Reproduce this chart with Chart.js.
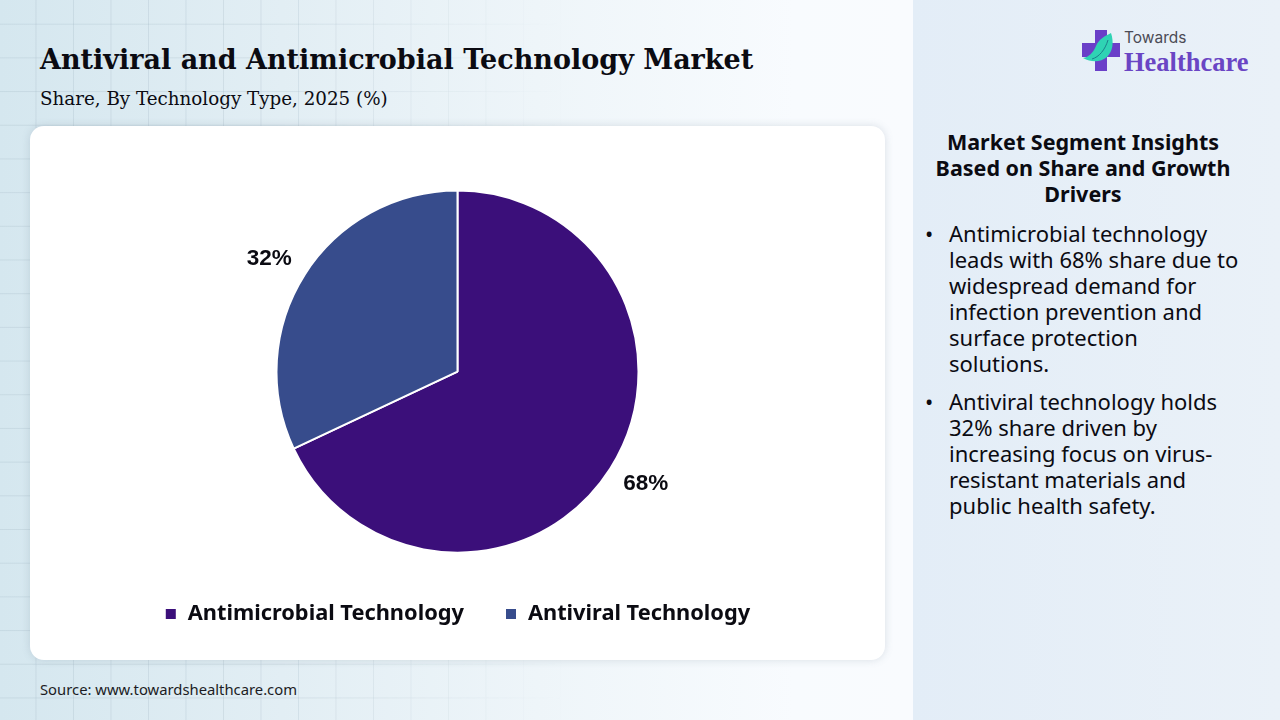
<!DOCTYPE html>
<html>
<head>
<meta charset="utf-8">
<script src="https://cdn.jsdelivr.net/npm/chart.js@4"></script>
<style>
html, body { margin: 0; padding: 0; }
body { width: 1280px; height: 720px; overflow: hidden; position: relative; background: linear-gradient(90deg, #d5e7ef 0%, #e2eef4 22%, #eef5f9 42%, #f8fbfe 62%, #f9fbfe 71%); font-family: "Noto Sans", sans-serif; color: #0b0b12; }
.grid { position: absolute; left: 0; top: 0; width: 913px; height: 720px;
  background-image: linear-gradient(rgba(150,170,185,.22) 1px, transparent 1px), linear-gradient(90deg, rgba(150,170,185,.22) 1px, transparent 1px);
  background-size: 37.5px 33.7px; background-position: -2px -10px;
  -webkit-mask-image: linear-gradient(90deg, #000 0%, #000 30%, transparent 62%); }
.side { position: absolute; left: 913px; top: 0; width: 367px; height: 720px; background: linear-gradient(90deg, #e3edf7, #eaf1f8); }
h1 { position: absolute; left: 40px; top: 44px; margin: 0; font: bold 27px "DejaVu Serif", serif; white-space: nowrap; }
.sub { position: absolute; left: 40px; top: 88px; font: 18.3px "DejaVu Serif", serif; white-space: nowrap; }
.card { position: absolute; left: 30px; top: 126px; width: 855px; height: 534px; background: #fff; border-radius: 14px; box-shadow: 0 0 8px rgba(90,110,130,.2); }
canvas { position: absolute; left: 0; top: 0; }
.source { position: absolute; left: 40px; top: 679px; font: 14.8px "Noto Sans", sans-serif; color: #1c1c24; }
.head { position: absolute; left: 925px; top: 129px; width: 316px; text-align: center; font: bold 21.5px/26px "Noto Sans", sans-serif; }
ul { position: absolute; left: 925px; top: 220px; width: 315px; margin: 0; padding: 0; list-style: none; font: 22px/26px "Noto Sans", sans-serif; }
li { position: relative; padding-left: 24px; margin-bottom: 12px; }
li:before { content: "\2022"; position: absolute; left: 0; }
.logo { position: absolute; left: 1080px; top: 28px; }
.t1 { position: absolute; left: 1124px; top: 28px; font: 15.5px Inter, sans-serif; color: #4b4b55; }
.t2 { position: absolute; left: 1124px; top: 47px; font: bold 26.5px "Liberation Serif", serif; color: #6a45c4; }
</style>
</head>
<body>
<div class="grid"></div>
<div class="side"></div>
<h1>Antiviral and Antimicrobial Technology Market</h1>
<div class="sub">Share, By Technology Type, 2025 (%)</div>
<div class="card"><canvas id="pieChart" width="855" height="534"></canvas></div>
<div class="source">Source: www.towardshealthcare.com</div>
<svg class="logo" width="42" height="46" viewBox="0 0 42 46">
  <path d="M15 2h12v13h13v14H27v14H15V29H2V15h13z" fill="#6a3fc8"/>
  <path d="M3 30C9 29 13 25 16 18 19 11 25 8 31 5c3 9 2 18-4 24-6 5-15 6-24 1z" fill="#2fd3b4"/>
  <path d="M12 31C19 29 25 22 28 12" fill="none" stroke="#1c7f8c" stroke-width="1"/>
</svg>
<div class="t1">Towards</div>
<div class="t2">Healthcare</div>
<div class="head">Market Segment Insights Based on Share and Growth Drivers</div>
<ul>
  <li>Antimicrobial technology leads with 68% share due to widespread demand for infection prevention and surface protection solutions.</li>
  <li>Antiviral technology holds 32% share driven by increasing focus on virus-resistant materials and public health safety.</li>
</ul>
<script>
const categories = ["Antimicrobial Technology", "Antiviral Technology"];
const shares = [68, 32];
const sliceColors = ["#3b0f7a", "#374c8c"];

// percent labels just outside the slices
const outsideLabels = {
    id: "outsideLabels",
    afterDatasetsDraw(chart) {
        const ctx = chart.ctx;
        ctx.save();
        ctx.font = "bold 22.5px 'Liberation Sans', sans-serif";
        ctx.fillStyle = "#0b0b12";
        ctx.textAlign = "center";
        ctx.textBaseline = "middle";
        chart.getDatasetMeta(0).data.forEach((arc, i) => {
            const mid = (arc.startAngle + arc.endAngle) / 2;
            const x = arc.x + Math.cos(mid) * (arc.outerRadius + 42);
            const y = arc.y + Math.sin(mid) * (arc.outerRadius + 29);
            ctx.fillText(shares[i] + "%", x, y);
        });
        ctx.restore();
    }
};

new Chart(document.getElementById("pieChart"), {
    type: "pie",
    data: {
        labels: categories,
        datasets: [{
            data: shares,
            backgroundColor: sliceColors,
            borderColor: "#ffffff",
            borderWidth: 2,
            radius: 181
        }]
    },
    options: {
        responsive: false,
        animation: false,
        layout: { padding: { top: 55, bottom: 25 } },
        plugins: {
            tooltip: { enabled: false },
            legend: {
                position: "bottom",
                labels: {
                    boxWidth: 12,
                    boxHeight: 12,
                    padding: 41,
                    color: "#0b0b12",
                    font: { family: "'Noto Sans', sans-serif", size: 21.8, weight: "bold" }
                }
            }
        }
    },
    plugins: [outsideLabels]
});
</script>
</body>
</html>
